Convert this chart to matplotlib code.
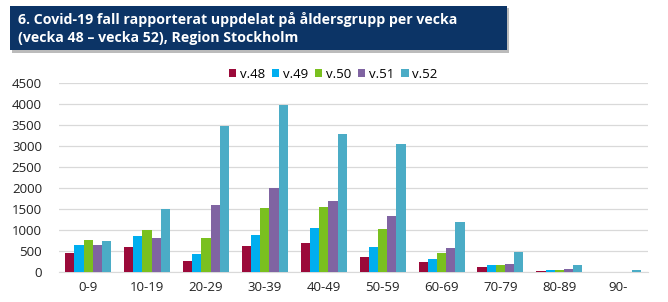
import matplotlib.pyplot as plt
import matplotlib.patches as mpatches
import numpy as np

plt.rcParams['font.family'] = ['Open Sans', 'DejaVu Sans']

# aldersgrupper och veckor
grupper = ["0-9", "10-19", "20-29", "30-39", "40-49", "50-59", "60-69", "70-79", "80-89", "90-"]
veckor = ["v.48", "v.49", "v.50", "v.51", "v.52"]

v48 = [440, 600, 260, 620, 690, 360, 230, 110, 15, 2]
v49 = [640, 860, 420, 880, 1050, 600, 300, 170, 40, 3]
v50 = [750, 1000, 800, 1510, 1550, 1030, 440, 170, 40, 3]
v51 = [640, 800, 1600, 2010, 1690, 1340, 570, 190, 55, 4]
v52 = [740, 1490, 3480, 3990, 3290, 3050, 1180, 460, 170, 35]

farger = ["#9b0a3a", "#00aeef", "#7ac01f", "#8064a2", "#4bacc6"]

fig = plt.figure(figsize=(6.68, 3.02), dpi=100)

# rubrik-ruta
fig.patches.append(mpatches.Rectangle((0.018, 0.826), 0.744, 0.148, transform=fig.transFigure,
                                      facecolor="#bbbbbb", edgecolor="none", zorder=0))
fig.patches.append(mpatches.Rectangle((0.015, 0.834), 0.744, 0.146, transform=fig.transFigure,
                                      facecolor="#0c3466", edgecolor="none", zorder=1))
fig.text(0.027, 0.935, "6. Covid-19 fall rapporterat uppdelat på åldersgrupp per vecka",
         color="white", fontsize=10.2, fontweight="bold", va="center", ha="left")
fig.text(0.027, 0.873, "(vecka 48 – vecka 52), Region Stockholm",
         color="white", fontsize=10.2, fontweight="bold", va="center", ha="left")

ax = fig.add_axes([0.0879, 0.1003, 0.8817, 0.6239])

x = np.arange(len(grupper))
bredd = 0.156
serier = [v48, v49, v50, v51, v52]
for i, (namn, vals, c) in enumerate(zip(veckor, serier, farger)):
    ax.bar(x + (i - 2) * bredd, vals, bredd, color=c, label=namn, zorder=3)

ax.set_xlim(-0.5, len(grupper) - 0.5)
ax.set_ylim(0, 4500)
ax.set_yticks(np.arange(0, 4501, 500))
ax.set_xticks(x)
ax.set_xticklabels(grupper)
ax.tick_params(axis="both", length=0, labelsize=9.5, colors="#222222")
ax.tick_params(axis="x", pad=7)
ax.tick_params(axis="y", pad=12)
ax.grid(axis="y", color="#d9d9d9", linewidth=0.9, zorder=0)
for s in ["top", "right", "left"]:
    ax.spines[s].set_visible(False)
ax.spines["bottom"].set_color("#d9d9d9")

ax.legend(loc="lower center", bbox_to_anchor=(0.466, 0.985), ncol=5, frameon=False,
          fontsize=9.5, handlelength=0.55, handleheight=0.55, handletextpad=0.25,
          columnspacing=0.55, borderaxespad=0)

fig.savefig("out.png", dpi=100)
